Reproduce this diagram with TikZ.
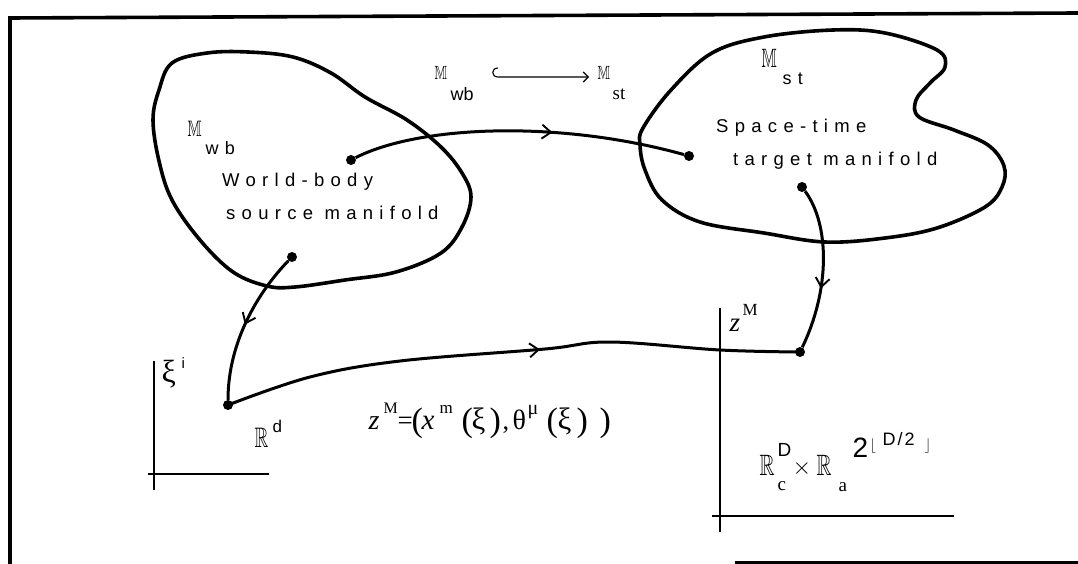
\documentclass[tikz,border=0pt]{standalone}
\usepackage{amssymb}
\usepackage{graphicx}
\usepackage{fontspec}
\setmainfont{Liberation Sans}
\newfontfamily\spaced[LetterSpace=34]{Liberation Sans}
\newfontfamily\tnr{Liberation Serif}
\usetikzlibrary{arrows.meta,decorations.markings}
\newcommand{\putat}[3]{\makebox[0pt][l]{\hspace*{#1pt}\raisebox{#2pt}{#3}}}
\newcommand{\fs}[1]{\fontsize{#1}{#1}\selectfont}
\newcommand{\bbM}[2]{\fs{20.74}\scalebox{#1}[#2]{$\mathbb{M}$}}
\newcommand{\bbR}[2]{\fs{20.74}\scalebox{#1}[#2]{$\mathbb{R}$}}
\tikzset{
  blob/.style={line width=3.6pt, line join=round},
  conn/.style={line width=3pt},
  dot/.style={circle, fill, inner sep=0pt, minimum size=10pt},
  axis/.style={line width=1.3pt},
  framel/.style={line width=3.6pt},
  txt/.style={anchor=base west, inner sep=0pt, font=\fs{18.5}\spaced},
  lab/.style={anchor=base west, inner sep=0pt},
  midarrow/.style={postaction={decorate}, decoration={markings, mark=at position #1 with {\arrow{Straight Barb[length=9pt,width=14pt,line width=1.9pt]}}}}
}
\begin{document}
\begin{tikzpicture}[x=1pt,y=-1pt]
\useasboundingbox (0,0) rectangle (1078,564);
% frame
\draw[framel] (10,564) -- (10,18) -- (1078,13);
\draw[framel] (735,563) -- (1078,563);
% blobs
\draw[blob] plot[smooth cycle, tension=0.6] coordinates {(172,63) (207,53) (248,52) (293,57) (331,73) (365,97) (407,120) (441,147) (462,173) (471,197) (462,227) (441,253) (396,272) (345,280) (295,287) (267,286) (233,272) (200,240) (172,200) (159,161) (153,120) (159,90)};
\draw[blob] plot[smooth cycle, tension=0.6] coordinates {(643,128) (671,90) (712,53) (764,37) (833,30) (885,33) (937,50) (945,67) (930,83) (916,100) (919,117) (954,130) (988,145) (1004,166) (1002,187) (985,207) (937,228) (885,238) (825,242) (764,233) (700,222) (662,200) (645,170) (640,145)};
% dots
\node[dot] (A) at (351,160) {};
\node[dot] (B) at (292,257) {};
\node[dot] (C) at (689,156) {};
\node[dot] (D) at (802,187) {};
\node[dot] (E) at (228,405) {};
\node[dot] (F) at (800,352) {};
% axes
\draw[axis] (154,361) -- (154,490);
\draw[axis] (148,474) -- (269,474);
\draw[axis] (720,308) -- (720,532);
\draw[axis] (712,516) -- (954,516);
% connectors
\draw[conn, midarrow=0.6] (A) .. controls (420,125) and (560,120) .. (C);
\draw[conn, midarrow=0.5] (B) .. controls (260,290) and (228,340) .. (E);
\draw[conn, midarrow=0.55] plot[smooth, tension=0.6] coordinates {(E) (310,377) (400,361) (545,349) (610,342) (720,350) (F)};
\draw[conn, midarrow=0.62] (D) .. controls (830,225) and (830,290) .. (F);
% texts
\node[txt] (t1) at (222,186) {World-body};
\node[txt] (t2) at (226,219) {source manifold};
\node[txt] (t3) at (716,133) {Space-time};
\node[txt] (t4) at (733,166) {target manifold};
\node[lab] (mwb) at (187,137) {\putat{0}{0}{\bbM{0.72}{1.08}}\putat{18}{-18}{\fs{18}\spaced wb}};
\node[lab] (mst) at (761,68) {\putat{0}{0}{\bbM{0.78}{1.28}}\putat{21}{-17}{\fs{18}\spaced st}};
\node[lab] (wbtop) at (434,80) {\putat{0}{0}{\bbM{0.64}{0.92}}\putat{16}{-21}{\fs{18}wb}};
\node[lab] (sttop) at (597,80) {\putat{0}{0}{\bbM{0.64}{0.92}}\putat{15}{-20}{\tnr\fs{19}st}};
\coordinate (h0) at (498,68);
\coordinate (h1) at (498,77);
\coordinate (h2) at (589,77);
\draw[line width=1.1pt, -{Straight Barb[length=5pt,width=10pt,line width=1.1pt]}] (h0) .. controls (491,68) and (491,77) .. (h1) -- (h2);
\node[lab] (xi) at (161,382) {\putat{0}{0}{\tnr\fs{32}ξ}\putat{20}{14}{\fs{15}i}};
\node[lab] (Rd) at (254,447) {\putat{0}{0}{\bbR{0.92}{1.36}}\putat{18}{15}{\fs{17}d}};
\node[lab] (zM) at (729,331) {\putat{0}{0}{\tnr\itshape\fs{27}z}\putat{13}{16}{\tnr\fs{17}M}};
\node[lab] (eq) at (368,429) {\tnr\putat{0}{0}{\fs{28}\itshape z}\putat{15}{16}{\fs{16}M}\putat{29}{0}{\fs{27}=}\putat{43}{-2}{\fs{34}(}\putat{53}{0}{\fs{29}\itshape x}\putat{71}{16}{\fs{17}m}\putat{93}{-2}{\fs{34}(}\putat{103}{0}{\fs{31}ξ}\putat{121}{-2}{\fs{34})}\putat{134}{0}{\fs{26},}\putat{144}{0}{\fs{28}θ}\putat{159}{15}{\fs{20}μ}\putat{178}{-2}{\fs{34}(}\putat{189}{0}{\fs{31}ξ}\putat{208}{-2}{\fs{34})}\putat{231}{-2}{\fs{34})}};
\node[lab] (RR) at (759,475) {\putat{0}{0}{\bbR{1.0}{1.42}}\putat{18}{19}{\fs{19}D}\putat{18}{-15}{\tnr\fs{19}c}\putat{33}{1}{\fs{20.74}\scalebox{1.15}{$\times$}}\putat{57}{0}{\bbR{1.0}{1.42}}\putat{79}{-16}{\tnr\fs{19}a}\putat{93}{18}{\fs{28}2}\putat{110}{26}{\fs{14.4}$\lfloor$}\putat{123}{30}{\fs{18}D\kern2pt/\kern2pt2}\putat{165}{26}{\fs{14.4}$\rfloor$}};
\end{tikzpicture}
\end{document}
